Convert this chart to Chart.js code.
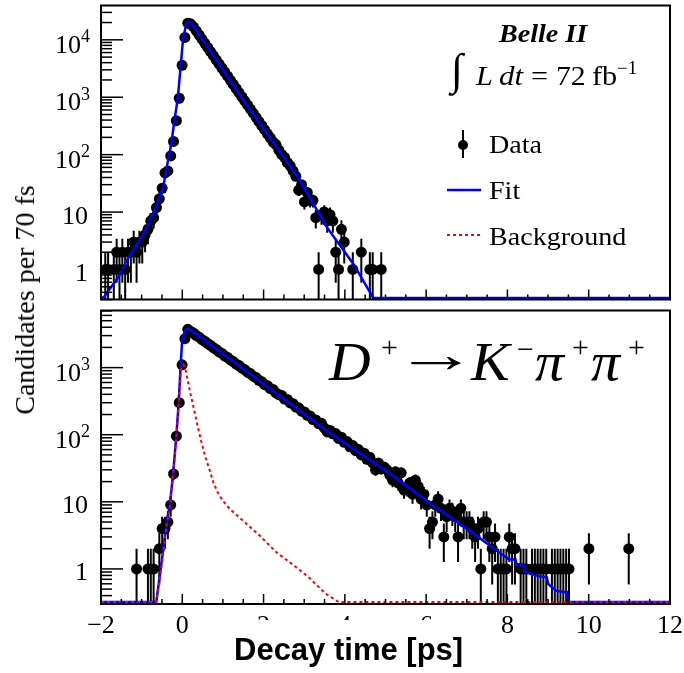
<!DOCTYPE html>
<html>
<head>
<meta charset="utf-8">
<script src="https://cdn.jsdelivr.net/npm/chart.js@4.4.1/dist/chart.umd.min.js"></script>
<style>
  html, body { margin: 0; padding: 0; background: #fff; }
  #wrap { position: relative; width: 684px; height: 673px; overflow: hidden; background: #fff; }
  canvas { position: absolute; left: 0; }
  #top { top: 0; }
  #bottom { top: 305px; }
  #ytitle {
    position: absolute; left: 25px; top: 300px;
    font-family: "Liberation Serif", serif; font-size: 28px; line-height: 28px;
    white-space: nowrap; color: #000;
    transform: translate(-50%, -50%) rotate(-90deg);
  }
</style>
</head>
<body>
<div id="wrap">
  <canvas id="top" width="684" height="305"></canvas>
  <canvas id="bottom" width="684" height="368"></canvas>
  <div id="ytitle">Candidates per 70 fs</div>
</div>
<script>
// 70 fs bins starting at -2 ps
const BIN_START = -2;
const BIN_WIDTH = 0.07;

// upper panel: counts per bin (null = empty bin)
const topCounts = [
  null, 1, 1, null, 1, 2, 1, 2, 1, 2, 2, 3, 2, 3, 3, 4, 5, 7, 8, 12,
  17, 26, 48, 52, 95, 170, 390, 960, 3600, 11000, 19500, 19000, 16800, 14250, 12080, 10250, 8690, 7370, 6250, 5300,
  4490, 3810, 3230, 2740, 2325, 1970, 1670, 1420, 1200, 1020, 865, 733, 622, 527, 447, 379, 322, 273, 231, 196,
  166, 150, 120, 101, 90, 73, 64, 52, 42, 24, 30, 15, 22, 16, 16, 8, 1, 9, 10, 7,
  9, 7, 2, 1, 5, 3, null, null, 1, null, null, 2, null, null, 1, 1, null, null, 1
];
const topFitTime  = [-2.0, -1.93, -1.86, -1.57, -1.33, -0.92, -0.68, -0.47, -0.35, -0.27, -0.19, -0.11, -0.04, 0.02, 0.10, 0.16, 0.25, 1.52, 2.83, 3.56, 4.21, 4.62, 4.70, 12];
const topFitValue = [0.32, 0.33, 0.39, 0.74, 1.6, 4.6, 11, 27, 80, 155, 410, 960, 3500, 10500, 19000, 20500, 18500, 850, 42, 5.4, 1.25, 0.4, 0.32, 0.32];

// lower panel: counts per bin
const botCounts = [
  null, null, null, null, null, null, null, null, null, null, null, null, 1, null, null, null, 1, 1, 1, null,
  2, 4, 4, 5, 9, 26, 95, 300, 1100, 2700, 3720, 3460, 3270, 3010, 2840, 2610, 2470, 2280, 2150, 1980,
  1870, 1720, 1630, 1490, 1420, 1300, 1230, 1130, 1075, 985, 935, 855, 815, 745, 710, 648, 618, 560, 538, 488,
  470, 420, 395, 385, 340, 335, 298, 290, 258, 252, 224, 218, 195, 190, 168, 166, 146, 148, 126, 110,
  116, 103, 104, 88, 92, 77, 79, 66, 69, 58, 60, 50, 53, 43, 46, 38, 30, 38, 31, 33,
  30, 25, 21, 28, 19, 27, 15, 16, 19, 13, 21, 17, 11, 13, 9, 4, 5, 9, 11, 8,
  3, 6, 8, 7, 6, 3, 8, 5, 5, 5, 4, 3, 4, 1, 5, 5, 3, 2, 3, 1,
  1, 1, 1, 3, 2, 2, null, 1, 1, 1, null, 1, 1, 1, 1, 1, 1, null, 1, 1,
  1, 1, 1, 1, 1, null, null, null, null, null, null, 2, null, null, null, null, null, null, null, null,
  null, null, null, null, null, 2
];
const botFitTime  = [-2.0, -0.64, -0.5, -0.38, -0.31, -0.23, -0.15, -0.09, -0.04, 0.0, 0.08, 0.14, 0.2, 2.42, 3.64, 5.03, 5.35, 6.2, 6.97, 7.65, 8.04, 8.2, 8.22, 8.39, 8.42, 8.78, 8.97, 9.0, 9.2, 9.46, 9.5, 12];
const botFitValue = [0.32, 0.32, 1.4, 5.2, 8.5, 25, 90, 290, 1100, 2700, 3700, 3800, 3650, 370, 105, 28.5, 20.4, 8.6, 4.1, 2.05, 1.38, 1.38, 1.17, 1.17, 0.9, 0.78, 0.75, 0.6, 0.47, 0.45, 0.32, 0.32];
const botBkgTime  = [-2.0, -0.64, -0.5, -0.38, -0.31, -0.23, -0.15, -0.09, -0.03, 0.03, 0.07, 0.17, 0.26, 0.36, 0.46, 0.56, 0.67, 0.77, 0.87, 1.0, 1.16, 1.48, 1.89, 2.3, 2.71, 3.11, 3.52, 3.85, 12];
const botBkgValue = [0.32, 0.32, 1.2, 4.8, 7.8, 24, 85, 280, 950, 1100, 1000, 500, 283, 150, 82, 48, 30, 19, 13.8, 10.3, 7.9, 5.3, 3.2, 1.8, 1.17, 0.75, 0.43, 0.32, 0.32];

// axis labels
const xTickValues = [-2, 0, 2, 4, 6, 8, 10, 12];
const xTickLabels = ['\u22122', '0', '2', '4', '6', '8', '10', '12'];
const topYTicks = [[1, '1', ''], [10, '10', ''], [100, '10', '2'], [1000, '10', '3'], [10000, '10', '4']];
const botYTicks = [[1, '1', ''], [10, '10', ''], [100, '10', '2'], [1000, '10', '3']];

const SERIF = '"Liberation Serif", serif';
const BLUE = '#0000ff';
const RED = '#ff0000';

function binPoints(counts) {
  const pts = [];
  counts.forEach((c, i) => {
    if (c !== null) pts.push({ x: BIN_START + (i + 0.5) * BIN_WIDTH, y: c });
  });
  return pts;
}
function pairPoints(ts, vs) {
  return ts.map((t, i) => ({ x: t, y: vs[i] }));
}

function line(ctx, x1, y1, x2, y2) {
  ctx.beginPath(); ctx.moveTo(x1, y1); ctx.lineTo(x2, y2); ctx.stroke();
}
// text drawn with a horizontal stretch, like the wide serif of the original
function stretched(ctx, s, x, y, font, sx, align) {
  ctx.save();
  ctx.font = font;
  ctx.textAlign = align || 'left';
  ctx.translate(x, y);
  ctx.scale(sx, 1);
  ctx.fillText(s, 0, 0);
  ctx.restore();
}

const panelPlugin = {
  id: 'panel',
  beforeDatasetsDraw(chart) {
    const { ctx, chartArea: a, scales: { y } } = chart;
    ctx.save();
    ctx.beginPath();
    ctx.rect(a.left, a.top, a.right - a.left, a.bottom - a.top);
    ctx.clip();
    ctx.strokeStyle = '#000';
    ctx.lineWidth = 2;
    chart.data.datasets.forEach((ds, i) => {
      if (!ds.errorBars) return;
      const meta = chart.getDatasetMeta(i);
      ds.data.forEach((p, j) => {
        const e = Math.sqrt(p.y);
        const lo = Math.max(p.y - e, y.min);
        const px = meta.data[j].x;
        line(ctx, px, y.getPixelForValue(lo), px, y.getPixelForValue(p.y + e));
      });
    });
    ctx.restore();
  },
  afterDraw(chart, args, opts) {
    const { ctx, chartArea: a, scales: { x, y } } = chart;
    ctx.save();
    ctx.strokeStyle = '#000';
    ctx.fillStyle = '#000';
    ctx.lineWidth = 2;
    ctx.strokeRect(a.left, a.top, a.right - a.left, a.bottom - a.top);

    // inward x ticks: major every 2, minor every 0.5
    ctx.lineWidth = 1.5;
    for (let k = 0; k <= 28; k++) {
      const px = x.getPixelForValue(-2 + k * 0.5);
      line(ctx, px, a.bottom, px, a.bottom - (k % 4 === 0 ? 10 : 5));
    }
    // inward log ticks on the left
    for (let d = -1; d <= 4; d++) {
      for (let m = 1; m <= 9; m++) {
        const v = m * Math.pow(10, d);
        if (v < y.min || v > y.max) continue;
        const py = y.getPixelForValue(v);
        line(ctx, a.left, py, a.left + (m === 1 ? 22 : 11), py);
      }
    }
    // y tick labels
    ctx.textBaseline = 'alphabetic';
    ctx.textAlign = 'right';
    for (const [v, base, exp] of opts.yTicks) {
      const py = y.getPixelForValue(v);
      if (exp) {
        ctx.font = '18px ' + SERIF;
        const ew = ctx.measureText(exp).width;
        ctx.fillText(exp, 90, py + 2.5);
        ctx.font = '26px ' + SERIF;
        ctx.fillText(base, 90 - ew, py + 13);
      } else {
        ctx.font = '26px ' + SERIF;
        ctx.fillText(base, 88, py + 11.5);
      }
    }
    // x tick labels and axis title
    if (opts.xLabels) {
      ctx.font = '26px ' + SERIF;
      ctx.textAlign = 'center';
      xTickValues.forEach((v, i) => {
        ctx.fillText(xTickLabels[i], x.getPixelForValue(v), a.bottom + 29);
      });
      ctx.fillStyle = '#fff';
      ctx.fillRect(228, a.bottom + 16, 244, 60);
      ctx.fillStyle = '#000';
      ctx.textAlign = 'left';
      ctx.font = 'bold 31px "Liberation Sans", Arial, sans-serif';
      ctx.fillText('Decay time [ps]', 234, a.bottom + 56);
    }
    ctx.restore();
  }
};

const topTextPlugin = {
  id: 'topText',
  afterDraw(chart) {
    const ctx = chart.ctx;
    ctx.save();
    ctx.fillStyle = '#000';
    stretched(ctx, 'Belle II', 499, 42, 'bold italic 26px ' + SERIF, 1.08);
    // integrated luminosity
    stretched(ctx, '\u222B', 451, 84, '44px ' + SERIF, 1.0);
    stretched(ctx, 'L', 476, 85, 'italic 27px ' + SERIF, 1.12);
    stretched(ctx, 'dt', 499, 85, 'italic 27px ' + SERIF, 1.15);
    stretched(ctx, '=', 531, 85, '27px ' + SERIF, 1.12);
    stretched(ctx, '72', 556, 85, '27px ' + SERIF, 1.1);
    stretched(ctx, 'fb', 592, 85, '27px ' + SERIF, 1.12);
    stretched(ctx, '\u22121', 617, 74, '18px ' + SERIF, 1.05);
    // legend
    ctx.strokeStyle = '#000';
    ctx.lineWidth = 2;
    line(ctx, 463, 130, 463, 158);
    ctx.beginPath(); ctx.arc(463, 145, 5, 0, Math.PI * 2); ctx.fill();
    stretched(ctx, 'Data', 489, 153, '26px ' + SERIF, 1.08);
    ctx.strokeStyle = BLUE;
    ctx.lineWidth = 2.5;
    line(ctx, 447, 190, 481, 190);
    stretched(ctx, 'Fit', 489, 199, '26px ' + SERIF, 1.08);
    ctx.strokeStyle = RED;
    ctx.lineWidth = 2;
    ctx.setLineDash([3, 3]);
    line(ctx, 447, 235, 481, 235);
    ctx.setLineDash([]);
    stretched(ctx, 'Background', 489, 245, '26px ' + SERIF, 1.08);
    ctx.restore();
  }
};

const botTextPlugin = {
  id: 'botText',
  afterDraw(chart) {
    const ctx = chart.ctx;
    const base = 75; // baseline of the decay label (canvas coordinates)
    ctx.save();
    ctx.fillStyle = '#000';
    const big = 'italic 55px ' + SERIF;
    const sup = '30px ' + SERIF;
    stretched(ctx, 'D', 329, base, big, 1.05);
    stretched(ctx, '+', 381, base - 23, sup, 1.0);
    stretched(ctx, '\u2192', 394, base - 8, '52px ' + SERIF, 1.6);
    stretched(ctx, 'K', 471, base, big, 1.05);
    stretched(ctx, '\u2212', 517, base - 21, sup, 1.0);
    stretched(ctx, '\u03C0', 535, base, big, 1.05);
    stretched(ctx, '+', 572, base - 23, sup, 1.0);
    stretched(ctx, '\u03C0', 591, base, big, 1.05);
    stretched(ctx, '+', 628, base - 23, sup, 1.0);
    ctx.restore();
  }
};

function makePanel(id, cfg) {
  return new Chart(document.getElementById(id), {
    type: 'scatter',
    data: { datasets: cfg.datasets },
    options: {
      responsive: false,
      animation: false,
      devicePixelRatio: 1,
      events: [],
      layout: { padding: cfg.padding },
      plugins: {
        legend: { display: false },
        tooltip: { enabled: false },
        panel: { yTicks: cfg.yTicks, xLabels: cfg.xLabels }
      },
      scales: {
        x: { type: 'linear', min: -2, max: 12, display: false },
        y: { type: 'logarithmic', min: cfg.yMin, max: cfg.yMax, display: false }
      }
    },
    plugins: [panelPlugin, cfg.textPlugin]
  });
}

const dataStyle = {
  showLine: false, pointRadius: 5.5, pointBackgroundColor: '#000',
  pointBorderWidth: 0, errorBars: true, order: 2
};
const fitStyle = { showLine: true, pointRadius: 0, borderColor: BLUE, borderWidth: 2.5, order: 1 };

makePanel('top', {
  padding: { left: 101, right: 14, top: 5, bottom: 1 },
  yMin: 0.307, yMax: 39600,
  yTicks: topYTicks, xLabels: false,
  textPlugin: topTextPlugin,
  datasets: [
    Object.assign({ label: 'Data', data: binPoints(topCounts) }, dataStyle),
    Object.assign({ label: 'Fit', data: pairPoints(topFitTime, topFitValue) }, fitStyle)
  ]
});

makePanel('bottom', {
  padding: { left: 101, right: 14, top: 0, bottom: 69 },
  yMin: 0.303, yMax: 7100,
  yTicks: botYTicks, xLabels: true,
  textPlugin: botTextPlugin,
  datasets: [
    Object.assign({ label: 'Data', data: binPoints(botCounts) }, dataStyle),
    Object.assign({ label: 'Fit', data: pairPoints(botFitTime, botFitValue) }, fitStyle),
    { label: 'Background', data: pairPoints(botBkgTime, botBkgValue), showLine: true, pointRadius: 0,
      borderColor: RED, borderWidth: 2, borderDash: [3, 3], order: 0 }
  ]
});
</script>
</body>
</html>
